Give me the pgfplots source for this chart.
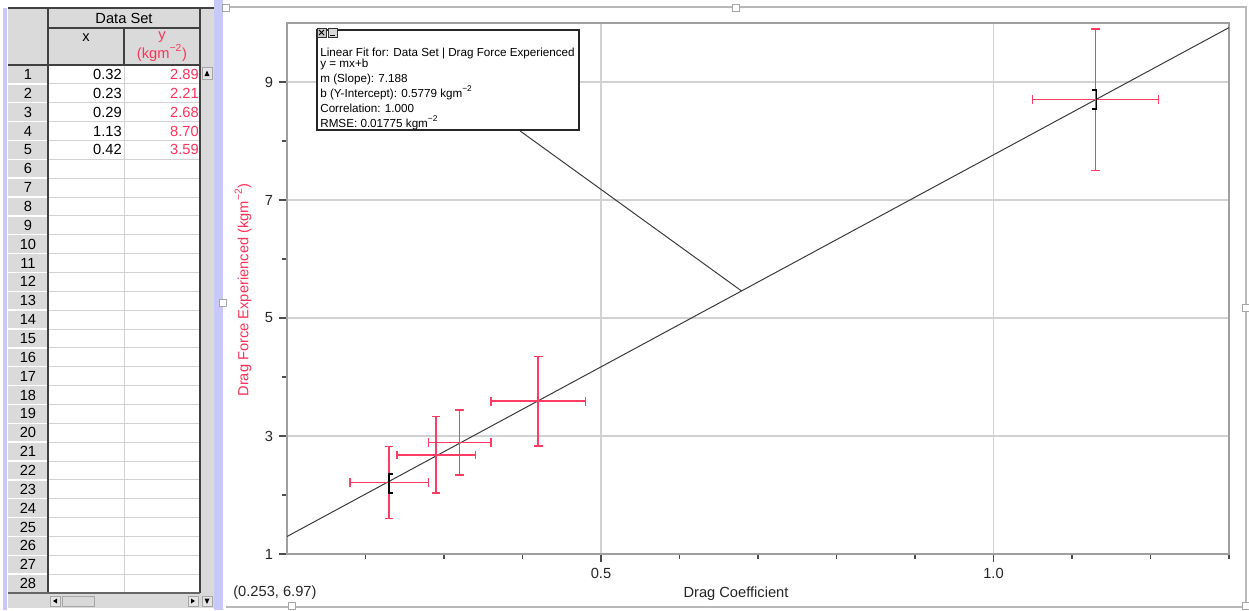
\documentclass[border=0pt]{standalone}
\usepackage{pgfplots}
\pgfplotsset{compat=1.18}
\usepackage{pgfplotstable}
\usepackage{fontspec}
\setmainfont{Liberation Sans}
\definecolor{errred}{RGB}{255,60,100}
\definecolor{txtred}{RGB}{255,50,90}
\definecolor{cellgray}{RGB}{218,218,218}
\definecolor{lav}{RGB}{200,200,250}
\definecolor{gridgray}{RGB}{210,210,210}
\definecolor{fitgray}{RGB}{60,60,60}

\pgfplotstableread{
x y ex ey
0.32 2.89 0.04 0.55
0.23 2.21 0.05 0.61
0.29 2.68 0.05 0.65
1.13 8.70 0.08 1.20
0.42 3.59 0.06 0.76
}\dataset

\newcommand{\tf}{\fontsize{8.8}{10}\selectfont}
\newcommand{\boxf}{\fontsize{7}{8.6}\selectfont}

\begin{document}
\begin{tikzpicture}[x=0.6pt,y=-0.6pt]
\useasboundingbox (0,0) rectangle (1249,610);
\fill[white] (0,0) rectangle (1249,610);
% ---------------- left table panel ----------------
\fill[lav] (3,8) rectangle (7,610);
\fill[cellgray] (8,8) rectangle (214,608);
\fill[lav] (214,0) rectangle (223,610);
\fill[white] (48,65) rectangle (200,593);
% row lines
\foreach \k in {1,...,27} {
  \draw[gray!35, line width=0.6pt] (48,{65+\k*18.857}) -- (200,{65+\k*18.857});
  \draw[white, line width=0.9pt] (8,{65+\k*18.857}) -- (48,{65+\k*18.857});
}
\draw[gray!35, line width=0.6pt] (124,65) -- (124,593);
% header lines
\draw[black!75, line width=0.9pt] (48,28) -- (200,28);
\draw[black!75, line width=0.9pt] (124,28) -- (124,65);
\draw[black!75, line width=1.2pt] (8,65) -- (200,65);
\draw[black!75, line width=1.2pt] (48,8) -- (48,593);
\draw[black!75, line width=1.2pt] (200,8) -- (200,593);
\draw[black!75, line width=0.9pt] (8,8) -- (214,8);
\draw[black!60, line width=0.9pt] (8,593) -- (200,593);
% header text
\node[font=\tf, inner sep=0] at (124,18) {Data Set};
\node[font=\tf, inner sep=0] at (86,38) {x};
\node[font=\tf, text=txtred, inner sep=0] at (162,37) {y};
\node[font=\tf, text=txtred, inner sep=0] at (162,53) {(kgm\textsuperscript{−2})};
% row numbers
\foreach \k in {1,...,28} {
  \node[font=\tf, inner sep=0] at (28,{65+(\k-0.5)*18.857}) {\k};
}
% values
\foreach \v [count=\i] in {0.32,0.23,0.29,1.13,0.42} {
  \node[font=\tf, inner sep=0, anchor=east] at (122,{65+(\i-0.5)*18.857}) {\v};
}
\foreach \v [count=\i] in {2.89,2.21,2.68,8.70,3.59} {
  \node[font=\tf, inner sep=0, anchor=east, text=txtred] at (199,{65+(\i-0.5)*18.857}) {\v};
}
% scroll bars
\draw[fill=gray!20, draw=gray!70] (202,67) rectangle (212,79);
\fill[black] (204.5,76) -- (209.5,76) -- (207,70.5) -- cycle;
\draw[fill=gray!20, draw=gray!70] (50,596) rectangle (60,606);
\fill[black] (57,598.5) -- (57,603.5) -- (53,601) -- cycle;
\draw[fill=gray!30, draw=gray!70] (62,596) rectangle (94,606);
\draw[fill=gray!20, draw=gray!70] (188,596) rectangle (198,606);
\fill[black] (191,598.5) -- (191,603.5) -- (195,601) -- cycle;
\draw[fill=gray!20, draw=gray!70] (202,596) rectangle (212,606);
\fill[black] (204.5,598.5) -- (209.5,598.5) -- (207,604) -- cycle;
% ---------------- graph panel ----------------
\draw[gray!55, line width=1.4pt] (226,7) -- (1246,7) -- (1246,607) -- (226,607);
\begin{axis}[
  at={(172.2pt,-332.4pt)}, anchor=south west,
  scale only axis, width=565.2pt, height=318.6pt,
  xmin=0.1, xmax=1.3, ymin=1, ymax=10,
  xtick={0.5,1.0}, xticklabels={0.5,1.0},
  minor xtick={0.2,0.3,0.4,0.6,0.7,0.8,0.9,1.1,1.2,1.3},
  ytick={1,3,5,7,9}, yticklabels={1,3,5,7,9},
  minor ytick={2,4,6,8},
  tick pos=left, tick align=outside,
  major tick length=4.8pt, minor tick length=3pt,
  xmajorgrids, ymajorgrids,
  major grid style={gridgray, line width=0.7pt},
  axis line style={gray!75, line width=0.7pt},
  every tick/.style={black!70, line width=0.7pt},
  tick label style={font=\tf, text=black!85},
  /pgf/number format/assume math mode=true,
]
\addplot[fitgray, line width=0.6pt] coordinates {(0.397,8.17) (0.679,5.459)};
\addplot[fitgray, line width=0.6pt] coordinates {(0.1,1.2967) (1.3,9.9223)};
\addplot[errred, only marks, mark=text, text mark={},
  error bars/.cd, x dir=both, x explicit, y dir=both, y explicit,
  error bar style={errred, line width=0.9pt},
  error mark options={rotate=90, errred, mark size=2.6pt, line width=0.9pt}]
  table[x=x, y=y, x error=ex, y error=ey] {\dataset};
\addplot[black, line width=1.1pt] coordinates {(0.2350,2.36) (0.2299,2.36) (0.2299,2.03) (0.2350,2.03)};
\addplot[black, line width=1.1pt] coordinates {(1.1260,8.86) (1.1312,8.86) (1.1312,8.54) (1.1260,8.54)};
\end{axis}
% labels
\node[font=\tf, text=txtred, rotate=90, inner sep=0] at (243,290) {Drag Force Experienced (kgm\textsuperscript{−2})};
\node[font=\tf, text=black!85, inner sep=0] at (736,594) {Drag Coefficient};
\node[font=\tf, text=black!85, inner sep=0, anchor=west] at (233,593) {(0.253, 6.97)};
% fit box
\draw[fill=white, draw=black!85, line width=1.2pt] (317,30) rectangle (579,130);
\draw[fill=gray!45, draw=black!80, line width=0.5pt] (317,28) rectangle (326,37);
\draw[black, line width=0.5pt] (319,30) -- (324,35) (319,35) -- (324,30);
\draw[fill=gray!30, draw=black!80, line width=0.5pt] (328,28) rectangle (337,37);
\draw[black, line width=0.6pt] (330,35) -- (335,35);
\node[font=\boxf, anchor=base west, inner sep=0] at (320,56) {Linear Fit for: Data Set | Drag Force Experienced};
\node[font=\boxf, anchor=base west, inner sep=0] at (320,67) {y = mx+b};
\node[font=\boxf, anchor=base west, inner sep=0] at (320,82) {m (Slope): 7.188};
\node[font=\boxf, anchor=base west, inner sep=0] at (320,97) {b (Y-Intercept): 0.5779 kgm\textsuperscript{−2}};
\node[font=\boxf, anchor=base west, inner sep=0] at (320,112) {Correlation: 1.000};
\node[font=\boxf, anchor=base west, inner sep=0] at (320,127) {RMSE: 0.01775 kgm\textsuperscript{−2}};
% handles
\foreach \p in {(226,8),(736,8),(1246,308),(223,303),(292,606),(1246,606)} {
  \draw[fill=white, draw=gray!70, line width=0.5pt] \p ++(-3.5,-3.5) rectangle ++(7,7);
}
\end{tikzpicture}
\end{document}
